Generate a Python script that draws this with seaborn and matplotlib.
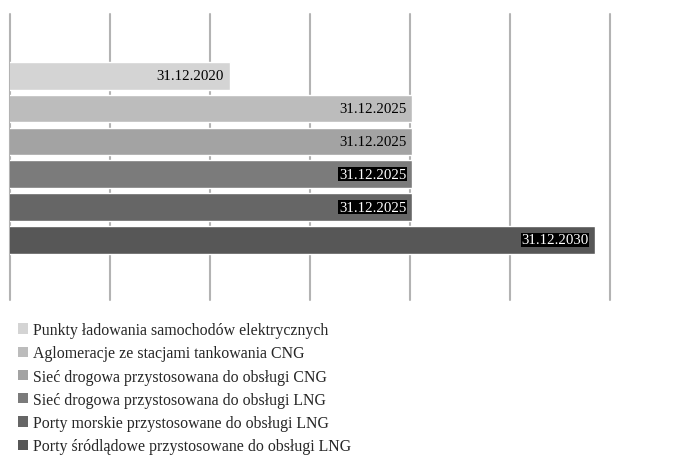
import matplotlib
matplotlib.use("Agg")
import matplotlib.pyplot as plt
import matplotlib.dates as mdates
from matplotlib.patches import Patch
import pandas as pd
import seaborn as sns

# Infrastructure categories and their target completion dates
categories = [
    "Punkty ładowania samochodów elektrycznych",
    "Aglomeracje ze stacjami tankowania CNG",
    "Sieć drogowa przystosowana do obsługi CNG",
    "Sieć drogowa przystosowana do obsługi LNG",
    "Porty morskie przystosowane do obsługi LNG",
    "Porty śródlądowe przystosowane do obsługi LNG",
]
deadlines = ["2020-12-31", "2025-12-31", "2025-12-31",
             "2025-12-31", "2025-12-31", "2030-12-31"]
bar_colors = ["#d4d4d4", "#bcbcbc", "#a3a3a3", "#7b7b7b", "#666666", "#575757"]
label_on_dark = [False, False, False, True, True, True]

axis_start = "2014-12-27"
grid_step_days = 1000
grid_count = 7

sns.set_theme(style="white")
plt.rcParams["font.family"] = ["Liberation Serif", "DejaVu Serif"]

dates = pd.to_datetime(deadlines)
df = pd.DataFrame({
    "kategoria": categories,
    "termin": mdates.date2num(dates),
    "etykieta": dates.strftime("%d.%m.%Y"),
})

fig = plt.figure(figsize=(6.96, 4.56), dpi=100)
ax = fig.add_axes([10 / 696, 1 - 301 / 456, 600 / 696, 286 / 456])

sns.barplot(data=df, x="termin", y="kategoria", hue="kategoria",
            palette=bar_colors, orient="h", width=0.84, saturation=1,
            legend=False, ax=ax)

start = mdates.date2num(pd.Timestamp(axis_start))
ticks = [start + k * grid_step_days for k in range(grid_count)]
ax.set_xticks(ticks)
ax.set_xlim(ticks[0], ticks[-1])
ax.set_ylim(6.83, -1.88)
ax.grid(axis="x", color="#b3b3b3", linewidth=1.5)
for gl in ax.xaxis.get_gridlines():
    gl.set_clip_on(False)
ax.set_axisbelow(True)
ax.tick_params(length=0, labelbottom=False, labelleft=False)
ax.set_xlabel("")
ax.set_ylabel("")
for s in ax.spines.values():
    s.set_visible(False)

for i, (val, txt, dark) in enumerate(zip(df["termin"], df["etykieta"], label_on_dark)):
    kw = {}
    if dark:
        kw["bbox"] = dict(facecolor="black", edgecolor="none", pad=0.3)
    ax.annotate(txt, xy=(val, i), xytext=(-6, 0), textcoords="offset pixels",
                ha="right", va="center", fontsize=10.7,
                color="white" if dark else "black", **kw)

handles = [Patch(facecolor=c, edgecolor="none") for c in bar_colors]
fig.legend(handles, categories, loc="upper left",
           bbox_to_anchor=(18 / 696, 1 - 323 / 456), frameon=False,
           prop={"size": 11.4}, handlelength=0.62, handleheight=0.62,
           handletextpad=0.35, labelspacing=0.46, borderpad=0, borderaxespad=0)

fig.savefig("out.png", dpi=100, facecolor="white")
